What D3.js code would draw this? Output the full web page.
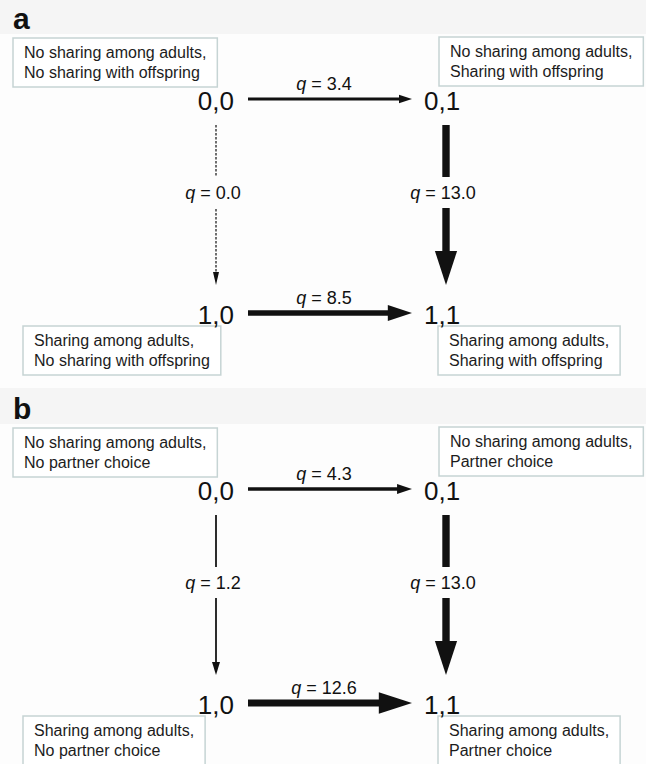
<!DOCTYPE html>
<html>
<head>
<meta charset="utf-8">
<script src="https://cdn.jsdelivr.net/npm/d3@7"></script>
<style>
  body { margin: 0; background: #fdfdfd; }
  text { font-family: "Liberation Sans", Arial, sans-serif; }
</style>
</head>
<body>
<div class="chart"></div>
<script>
// the two panels and their transition rates q
const panels = ["a", "b"];
const nodeLabels = ["0,0", "0,1", "1,0", "1,1"];
// edge order: 0,0->0,1 ; 0,0->1,0 ; 0,1->1,1 ; 1,0->1,1
const edges = [[0, 1], [0, 2], [1, 3], [2, 3]];
const qA = [3.4, 0.0, 13.0, 8.5];
const qB = [4.3, 1.2, 13.0, 12.6];
const boxTextA = [
  ["No sharing among adults,", "No sharing with offspring"],
  ["No sharing among adults,", "Sharing with offspring"],
  ["Sharing among adults,", "No sharing with offspring"],
  ["Sharing among adults,", "Sharing with offspring"]
];
const boxTextB = [
  ["No sharing among adults,", "No partner choice"],
  ["No sharing among adults,", "Partner choice"],
  ["Sharing among adults,", "No partner choice"],
  ["Sharing among adults,", "Partner choice"]
];

const W = 646, H = 764;
const svg = d3.select(".chart").append("svg")
  .attr("width", W)
  .attr("height", H);

// light grey strips behind the panel letters
svg.append("rect").attr("x", 0).attr("y", 0).attr("width", W).attr("height", 34).attr("fill", "#f5f5f5");
svg.append("rect").attr("x", 0).attr("y", 388).attr("width", W).attr("height", 36).attr("fill", "#f5f5f5");

// layout scales
const panelY = d3.scaleOrdinal().domain(panels).range([0, 390]);
const colX = d3.scaleLinear().domain([0, 1]).range([216, 446]);
const rowY = d3.scaleLinear().domain([0, 1]).range([110, 324]); // baselines of node labels
const strokeW = d3.scaleLinear().domain([0, 13]).range([1.2, 7.4]);

// box placement per node (left x, top y relative to panel)
const boxPos = [[13, 38], [439, 37], [23, 326], [438, 326]];

function arrow(g, x1, y1, x2, y2, q) {
  const w = strokeW(q);
  const headL = Math.max(13, w * 4.6);
  const headW = Math.max(q === 0 ? 6 : 8, w * 3.0);
  const dx = x2 - x1, dy = y2 - y1;
  const len = Math.sqrt(dx * dx + dy * dy);
  const ux = dx / len, uy = dy / len;
  const bx = x2 - ux * headL, by = y2 - uy * headL;
  g.append("line")
    .attr("x1", x1).attr("y1", y1)
    .attr("x2", bx + ux).attr("y2", by + uy)
    .attr("stroke", "#111")
    .attr("stroke-width", w)
    .attr("stroke-dasharray", q === 0 ? "2.4,1.6" : null);
  const px = -uy, py = ux;
  g.append("path")
    .attr("d", d3.line()([
      [x2, y2],
      [bx + px * headW / 2, by + py * headW / 2],
      [bx - px * headW / 2, by - py * headW / 2]
    ]) + "Z")
    .attr("fill", "#111");
}

panels.forEach((p, pi) => {
  const q = pi === 0 ? qA : qB;
  const texts = pi === 0 ? boxTextA : boxTextB;
  const g = svg.append("g").attr("transform", `translate(0,${panelY(p)})`);

  g.append("text")
    .attr("x", 13).attr("y", 29)
    .attr("font-size", 30).attr("font-weight", "bold")
    .attr("fill", "#111")
    .text(p);

  // state boxes
  texts.forEach((lines, i) => {
    const bg = g.append("g");
    const rect = bg.append("rect")
      .attr("x", boxPos[i][0]).attr("y", boxPos[i][1])
      .attr("height", 49)
      .attr("fill", "#fff")
      .attr("stroke", "#c6d4d4")
      .attr("stroke-width", 1.5);
    const t = bg.append("text")
      .attr("font-size", 16)
      .attr("fill", "#1c1c1c");
    lines.forEach((l, k) => {
      t.append("tspan")
        .attr("x", boxPos[i][0] + 11)
        .attr("y", boxPos[i][1] + 20 + k * 20)
        .text(l);
    });
    const tw = t.node().getBBox().width;
    rect.attr("width", tw + 22);
  });

  // node labels
  nodeLabels.forEach((lab, i) => {
    const c = i % 2, r = Math.floor(i / 2);
    g.append("text")
      .attr("x", c === 0 ? colX(0) + 18 : colX(1) - 22)
      .attr("y", rowY(r))
      .attr("text-anchor", c === 0 ? "end" : "start")
      .attr("font-size", 26)
      .attr("fill", "#111")
      .text(lab);
  });

  // transitions
  edges.forEach((e, k) => {
    const [a, b] = e;
    const ca = a % 2, ra = Math.floor(a / 2), rb = Math.floor(b / 2);
    const lab = "= " + q[k].toFixed(1);
    if (ra === rb) {
      const y = rowY(ra) - 11;
      const x1 = colX(0) + 32, x2 = colX(1) - 34;
      arrow(g, x1, y, x2, y, q[k]);
      const t = g.append("text")
        .attr("x", (x1 + x2) / 2 - 6).attr("y", y - 9)
        .attr("text-anchor", "middle")
        .attr("font-size", 18).attr("fill", "#111");
      t.append("tspan").attr("font-style", "italic").text("q ");
      t.append("tspan").text(lab);
    } else {
      const x = colX(ca);
      const y1 = rowY(0) + 15, y2 = rowY(1) - 39;
      arrow(g, x, y1, x, y2, q[k]);
      const my = 193;
      g.append("rect")
        .attr("x", x - 38).attr("y", my - 16)
        .attr("width", 76).attr("height", 31)
        .attr("fill", "#fdfdfd");
      const t = g.append("text")
        .attr("x", x - 3).attr("y", my + 6)
        .attr("text-anchor", "middle")
        .attr("font-size", 18).attr("fill", "#111");
      t.append("tspan").attr("font-style", "italic").text("q ");
      t.append("tspan").text(lab);
    }
  });
});
</script>
</body>
</html>
